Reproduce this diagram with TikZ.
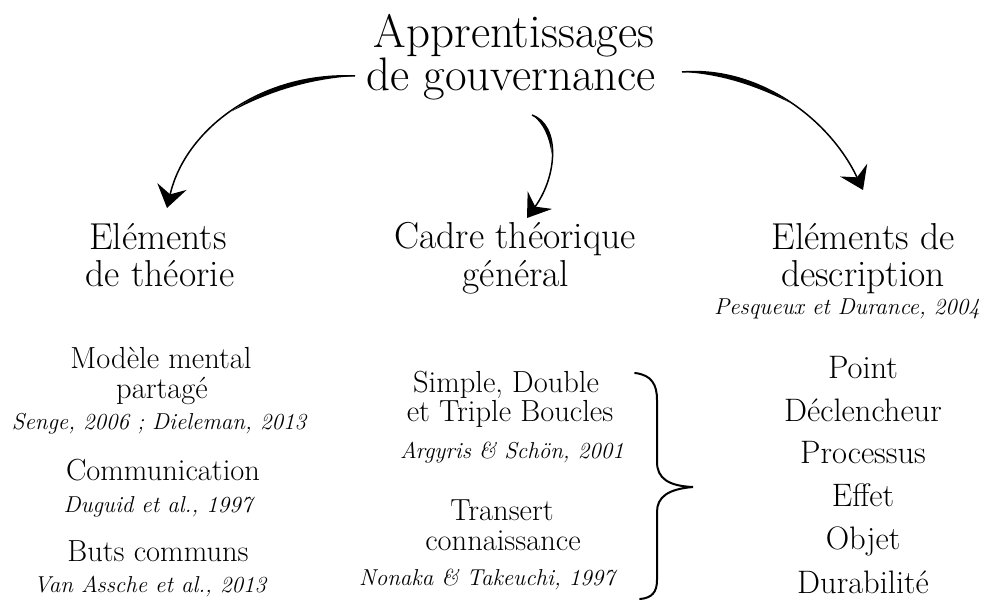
\documentclass[tikz,border=0pt]{standalone}
\usepackage{fontspec}
\usetikzlibrary{arrows.meta}
\tikzset{
  ttl/.style={anchor=base, inner sep=0pt, font=\fontsize{47}{47}\selectfont},
  hdr/.style={anchor=base, inner sep=0pt, font=\fontsize{37.5}{37.5}\selectfont},
  itm/.style={anchor=base, inner sep=0pt, font=\fontsize{30.5}{30.5}\selectfont},
  itmr/.style={anchor=base, inner sep=0pt, font=\fontsize{32.5}{32.5}\selectfont},
  cite/.style={anchor=base, inner sep=0pt, font=\fontsize{23}{23}\selectfont\itshape},
  conn/.style={line width=1.5pt, -{Stealth[length=22pt,width=30pt,inset=8pt]}},
  brace/.style={line width=2pt, line cap=round}
}
\begin{document}
\begin{tikzpicture}[x=1pt,y=-1pt]
\useasboundingbox (0,0) rectangle (1000,599);
% title
\node[ttl] (t1) at (514,48) {Apprentissages};
\node[ttl] (t2) at (511,91) {de gouvernance};
% headers
\node[hdr] (h1a) at (158,249) {Eléments};
\node[hdr] (h1b) at (160,286) {de théorie};
\node[hdr] (h2a) at (515,248) {Cadre théorique};
\node[hdr] (h2b) at (516,286) {général};
\node[hdr] (h3a) at (863,249) {Eléments de};
\node[hdr] (h3b) at (863,286) {description};
\node[cite] (h3c) at (847,314) {Pesqueux et Durance, 2004};
% left column
\node[itm] (l1) at (161,368) {Modèle mental};
\node[itm] (l2) at (162,398) {partagé};
\node[cite] (l3) at (159,429) {Senge, 2006 ; Dieleman, 2013};
\node[itm] (l4) at (163,480) {Communication};
\node[cite] (l5) at (158,512) {Duguid et al., 1997};
\node[itm] (l6) at (158,561) {Buts communs};
\node[cite] (l7) at (150,592) {Van Assche et al., 2013};
% middle column
\node[itm] (m1) at (506,392) {Simple, Double};
\node[itm] (m2) at (510,421) {et Triple Boucles};
\node[cite] (m3) at (512,458) {Argyris \& Schön, 2001};
\node[itm] (m4) at (502,520) {Transert};
\node[itm] (m5) at (503,550) {connaissance};
\node[cite] (m6) at (487,585) {Nonaka \& Takeuchi, 1997};
% right column
\node[itmr] (r1) at (863,378) {Point};
\node[itmr] (r2) at (863,421) {Déclencheur};
\node[itmr] (r3) at (863,463) {Processus};
\node[itmr] (r4) at (863,506) {Effet};
\node[itmr] (r5) at (863,549) {Objet};
\node[itmr] (r6) at (863,593) {Durabilité};
% connector end points
\coordinate (ls) at (355,76);
\coordinate (le) at (167,208);
\coordinate (ms) at (532,115);
\coordinate (me) at (527,218);
\coordinate (rs) at (682,72);
\coordinate (re) at (863,190);
% left arrow
\draw[conn] (ls) .. controls (260,72) and (185,130) .. (le);
\fill (ls) .. controls (307.5,74) and (265,87.5) .. (232.1,111.25)
      .. controls (269,91.5) and (309.5,79) .. (ls) -- cycle;
% middle arrow
\draw[conn] (ms) .. controls (560,125) and (558,175) .. (me);
\fill (ms) .. controls (546,120) and (552.5,135) .. (551.6,154.1)
      .. controls (549,136) and (543,123) .. (ms) -- cycle;
% right arrow
\draw[conn] (rs) .. controls (760,66) and (830,120) .. (re);
\fill (rs) .. controls (721,69) and (758,81) .. (789.4,102.5)
      .. controls (754,85) and (720,74) .. (rs) -- cycle;
% brace
\coordinate (bt) at (635,373);
\coordinate (bp) at (693,487);
\coordinate (bb) at (640,599);
\draw[brace] (bt) .. controls (652,375) and (657,385) .. (657,400)
  -- (657,462) .. controls (657,478) and (668,486) .. (bp)
  .. controls (668,489) and (657,497) .. (657,512)
  -- (657,580) .. controls (657,592) and (652,598) .. (bb);
\end{tikzpicture}
\end{document}
